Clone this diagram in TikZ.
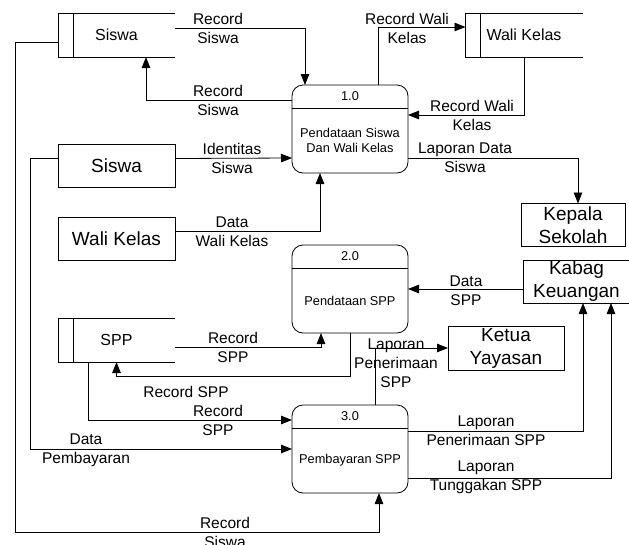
\documentclass[tikz,border=0pt]{standalone}
\usepackage{fontspec}
\setmainfont{Liberation Sans}
\usetikzlibrary{arrows.meta}

\tikzset{
  flow/.style={draw, line width=0.8pt, -{Triangle[length=11pt,width=8.5pt]}},
  entity/.style={draw, line width=0.8pt, align=center, inner sep=0pt, outer sep=0pt,
    font=\fontsize{19}{23}\selectfont},
  store/.style={inner sep=0pt, outer sep=0pt, minimum width=117pt, minimum height=44pt,
    font=\fontsize{16}{19}\selectfont},
  proc/.style={draw, line width=0.8pt, rounded corners=11pt, outer sep=0pt,
    minimum width=116pt, minimum height=88pt},
  ptext/.style={align=center, inner sep=0pt, font=\fontsize{12.8}{15}\selectfont},
  lbl/.style={align=center, inner sep=0pt, font=\fontsize{15.5}{19}\selectfont},
}

\begin{document}
\begin{tikzpicture}[x=1pt, y=-1pt]
\useasboundingbox (0,0) rectangle (629,544);

% data stores
\node[store] (dsSiswa) at (116.5,35) {Siswa};
\node[store] (dsWali) at (524,35) {Wali Kelas};
\node[store] (dsSPP) at (116.5,340) {SPP};
\foreach \s in {dsSiswa,dsWali,dsSPP} {
  \draw[line width=0.8pt] (\s.north east) -- (\s.north west) -- (\s.south west) -- (\s.south east);
  \draw[line width=0.8pt] ([xshift=15pt]\s.north west) -- ([xshift=15pt]\s.south west);
}

% external entities
\node[entity, minimum width=117pt, minimum height=43pt] (eSiswa) at (116.5,165.5) {Siswa};
\node[entity, minimum width=117pt, minimum height=43pt] (eWali) at (116.5,238.5) {Wali Kelas};
\node[entity, minimum width=104pt, minimum height=43pt] (eKepala) at (573,225) {Kepala\\Sekolah};
\node[entity, minimum width=107pt, minimum height=43pt] (eKabag) at (576.5,281.5) {Kabag\\Keuangan};
\node[entity, minimum width=116pt, minimum height=44pt] (eKetua) at (506,348) {Ketua\\Yayasan};

% processes
\node[proc] (p1) at (350,129) {};
\draw[line width=0.8pt] ([yshift=-23pt]p1.north west) -- ([yshift=-23pt]p1.north east);
\node[ptext] (p1num) at ([yshift=-11.5pt]p1.north) {1.0};
\node[ptext] (p1txt) at ([yshift=-11.5pt]p1.center) {Pendataan Siswa\\Dan Wali Kelas};

\node[proc] (p2) at (350,289) {};
\draw[line width=0.8pt] ([yshift=-23pt]p2.north west) -- ([yshift=-23pt]p2.north east);
\node[ptext] (p2num) at ([yshift=-11.5pt]p2.north) {2.0};
\node[ptext] (p2txt) at ([yshift=-11.5pt]p2.center) {Pendataan SPP};

\node[proc] (p3) at (350,449) {};
\draw[line width=0.8pt] ([yshift=-23pt]p3.north west) -- ([yshift=-23pt]p3.north east);
\node[ptext] (p3num) at ([yshift=-11.5pt]p3.north) {3.0};
\node[ptext] (p3txt) at ([yshift=-11.5pt]p3.center) {Pembayaran SPP};

% bends
\coordinate (cRec) at (15,532);
\coordinate (cPay) at (30,449);

% flows
\draw[flow] ([yshift=7pt]dsSiswa.east) -| ([xshift=-45pt]p1.north);
\node[lbl] (l1) at (218,28.5) {Record\\Siswa};

\draw[flow] ([yshift=29pt]p1.west) -| ([xshift=29.5pt]dsSiswa.south);
\node[lbl] (l2) at (218,100) {Record\\Siswa};

\draw[flow] ([yshift=-7pt]dsSiswa.west) -| (cRec) -| ([xshift=29pt]p3.south);
\node[lbl] (l3) at (225,532) {Record\\Siswa};

\draw[flow] ([yshift=7pt]eSiswa.east) -- ([yshift=-29pt]p1.west);
\node[lbl] (l4) at (232,158.5) {Identitas\\Siswa};

\draw[flow] ([yshift=7pt]eSiswa.west) -| (cPay) -- (p3.west);
\node[lbl] (l5) at (86,450) {Data\\Pembayaran};

\draw[flow] ([yshift=7.5pt]eWali.east) -| ([xshift=-30pt]p1.south);
\node[lbl] (l6) at (232,231.5) {Data\\Wali Kelas};

\draw[flow] ([xshift=28pt]p1.north) |- ([yshift=8pt]dsWali.west);
\node[lbl] (l7) at (407,28.5) {Record Wali\\Kelas};

\draw[flow] (dsWali.south) |- ([yshift=14pt]p1.east);
\node[lbl] (l8) at (472,115) {Record Wali\\Kelas};

\draw[flow] ([yshift=-29pt]p1.east) -| ([xshift=5pt]eKepala.north);
\node[lbl] (l9) at (465,158) {Laporan Data\\Siswa};

\draw[flow] ([yshift=-7.5pt]eKabag.west) -- (p2.east);
\node[lbl] (l10) at (466,291) {Data\\SPP};

\draw[flow] ([yshift=-7pt]dsSPP.east) -| ([xshift=-29pt]p2.south);
\node[lbl] (l11) at (233,347) {Record\\SPP};

\draw[flow] (p2.south) |- ([yshift=-14pt]dsSPP.south) -- (dsSPP.south);
\node[lbl] (l12) at (186,392) {Record SPP};

\draw[flow] ([xshift=-28.5pt]dsSPP.south) |- ([yshift=29pt]p3.west);
\node[lbl] (l13) at (218,420) {Record\\SPP};

\draw[flow] ([xshift=25pt]p3.north) |- (eKetua.west);
\node[lbl] (l14) at (396,363) {Laporan\\Penerimaan\\SPP};

\draw[flow] ([yshift=18pt]p3.east) -| ([xshift=6.5pt]eKabag.south);
\node[lbl] (l15) at (486,430.5) {Laporan\\Penerimaan SPP};

\draw[flow] ([yshift=-29pt]p3.east) -| ([xshift=34.5pt]eKabag.south);
\node[lbl] (l16) at (486,477.5) {Laporan\\Tunggakan SPP};

\end{tikzpicture}
\end{document}
